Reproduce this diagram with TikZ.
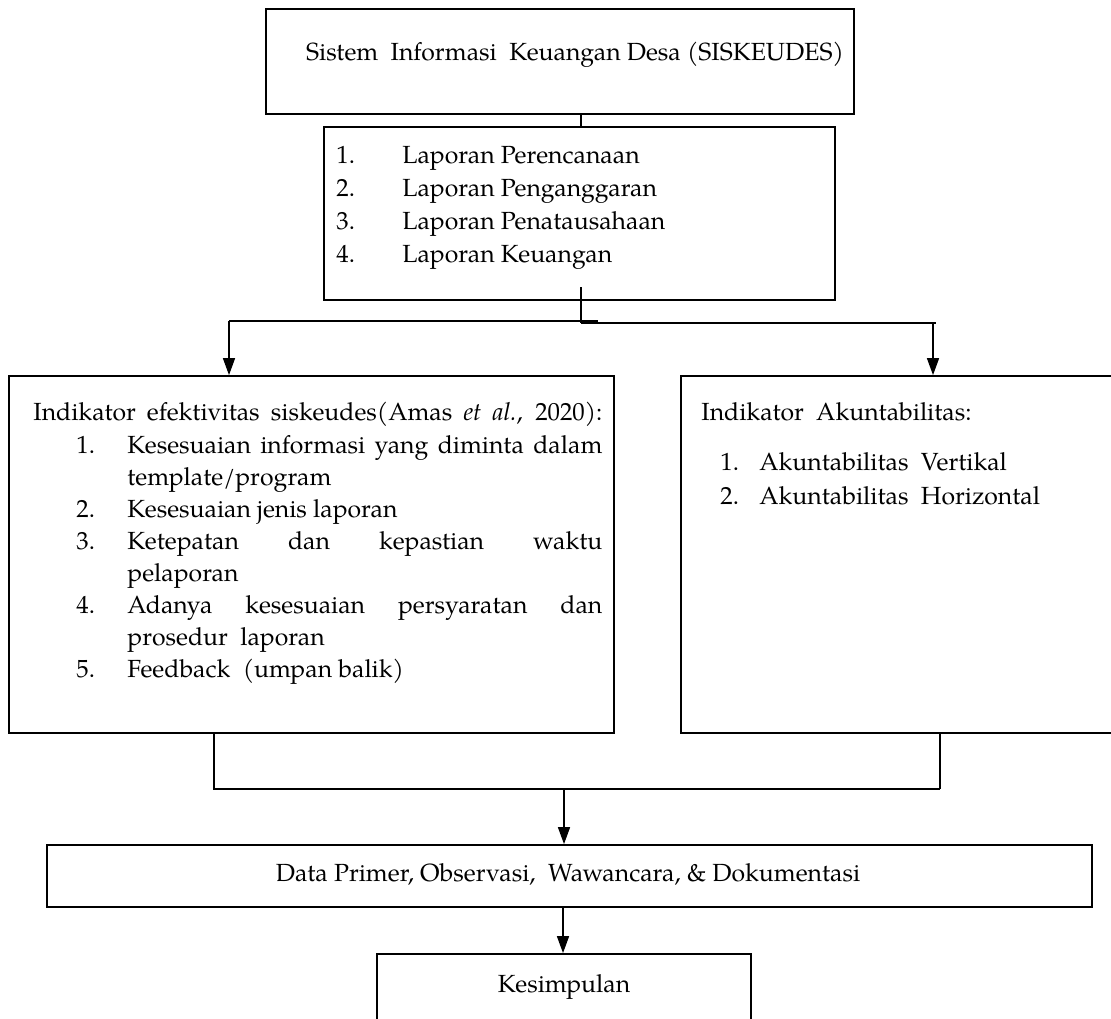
\documentclass[tikz,border=0pt]{standalone}
\usepackage{fontspec}
\setmainfont{TeX Gyre Pagella}
\usetikzlibrary{arrows.meta,fit}
\begin{document}
\begin{tikzpicture}[x=0.5pt,y=-0.5pt,
  box/.style={draw, line width=0.9pt, inner sep=0pt},
  conn/.style={line width=0.75pt},
  arr/.style={conn, -{Triangle[width=6pt,length=8.5pt]}},
  txt/.style={inner sep=0pt, font=\fontsize{12.4}{16}\selectfont}]
\useasboundingbox (0,0) rectangle (1111,1018);

% boxes
\node[box, fit={(266,9)(854,114)}] (b1) {};
\node[box, fit={(324,127)(835,300)}] (b2) {};
\node[box, fit={(9,376)(614,733)}] (lb) {};
\node[box, fit={(681,376)(1125,733)}] (rb) {};
\node[box, fit={(47,845)(1092,907)}] (db) {};
\node[box, fit={(377,954)(751,1040)}] (kb) {};

% texts box 1
\node[txt, anchor=base] (t1) at (575,60) {Sistem\ \ Informasi\ \ Keuangan Desa (SISKEUDES)};

% box 2
\node[txt, anchor=base west] (n21) at (336,163) {1.};
\node[txt, anchor=base west] (n22) at (336,196) {2.};
\node[txt, anchor=base west] (n23) at (336,229) {3.};
\node[txt, anchor=base west] (n24) at (336,262) {4.};
\node[txt, anchor=base west] (t21) at (402,163) {Laporan Perencanaan};
\node[txt, anchor=base west] (t22) at (402,196) {Laporan Penganggaran};
\node[txt, anchor=base west] (t23) at (402,229) {Laporan Penatausahaan};
\node[txt, anchor=base west] (t24) at (402,262) {Laporan Keuangan};

% left box
\node[txt, anchor=base west] (lt) at (33,420) {\makebox[284.5pt][s]{Indikator efektivitas siskeudes(Amas \textit{et al.}, 2020):}};
\node[txt, anchor=base west] (ln1) at (76,453) {1.};
\node[txt, anchor=base west] (l1a) at (127,453) {\makebox[237.5pt][s]{Kesesuaian informasi yang diminta dalam}};
\node[txt, anchor=base west] (l1b) at (127,485) {template/program};
\node[txt, anchor=base west] (ln2) at (76,517) {2.};
\node[txt, anchor=base west] (l2a) at (127,517) {Kesesuaian jenis laporan};
\node[txt, anchor=base west] (ln3) at (76,549) {3.};
\node[txt, anchor=base west] (l3a) at (127,549) {\makebox[237.5pt][s]{Ketepatan dan kepastian waktu}};
\node[txt, anchor=base west] (l3b) at (127,581) {pelaporan};
\node[txt, anchor=base west] (ln4) at (76,613) {4.};
\node[txt, anchor=base west] (l4a) at (127,613) {\makebox[237.5pt][s]{Adanya kesesuaian persyaratan dan}};
\node[txt, anchor=base west] (l4b) at (127,645) {prosedur\ \ laporan};
\node[txt, anchor=base west] (ln5) at (76,677) {5.};
\node[txt, anchor=base west] (l5a) at (127,677) {Feedback\ \ (umpan balik)};

% right box
\node[txt, anchor=base west] (rt) at (701,420) {Indikator\ \ Akuntabilitas:};
\node[txt, anchor=base west] (rn1) at (720,470) {1.};
\node[txt, anchor=base west] (r1) at (759,470) {Akuntabilitas\ \ Vertikal};
\node[txt, anchor=base west] (rn2) at (720,504) {2.};
\node[txt, anchor=base west] (r2) at (759,504) {Akuntabilitas\ \ Horizontal};

% bottom texts
\node[txt, anchor=base] (dt) at (568,881) {Data Primer, Observasi,\ \ Wawancara, \& Dokumentasi};
\node[txt, anchor=base] (kt) at (564,992) {Kesimpulan};

% connectors
\coordinate (s1) at (581,287);
\coordinate (j1) at (581,323);
\coordinate (jl) at (229,321);
\coordinate (jle) at (598,321);
\coordinate (jr) at (933,323);
\coordinate (jre) at (936,323);
\draw[conn] (b1.south -| s1) -- (b2.north -| s1);
\draw[conn] (s1) -- (j1);
\draw[conn] (jl) -- (jle);
\draw[conn] (j1) -- (jre);
\draw[arr] (jl) -- (jl |- lb.north);
\draw[arr] (jr) -- (jr |- rb.north);

\coordinate (bl) at (214,789);
\coordinate (br) at (940,789);
\coordinate (bm) at (564,789);
\draw[conn] (lb.south -| bl) -- (bl) -- (br);
\draw[conn] (rb.south -| br) -- (br);
\draw[arr] (bm) -- (bm |- db.north);
\coordinate (dm) at (563,907);
\draw[arr] (db.south -| dm) -- (dm |- kb.north);
\end{tikzpicture}
\end{document}
